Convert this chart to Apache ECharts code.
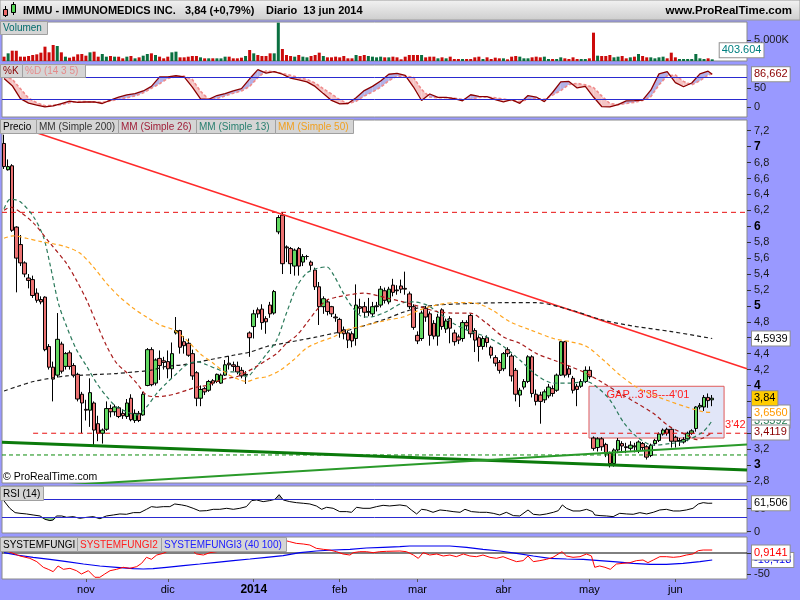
<!DOCTYPE html>
<html>
<head>
<meta charset="utf-8">
<title>IMMU</title>
<script src="https://cdn.jsdelivr.net/npm/echarts@6.0.0/dist/echarts.min.js"></script>
<style>
html,body{margin:0;padding:0;background:#9999ff;overflow:hidden;}
#chart{width:800px;height:600px;}
</style>
</head>
<body>
<div id="chart"></div>
<script>
// ---------- calendar (categories) ----------
const holidays = ['2013-11-28','2013-12-25','2014-01-01','2014-01-20','2014-02-17','2014-04-18','2014-05-26'];
function tradingDays(a, b) {
  const out = []; const d = new Date(a + 'T12:00:00Z'); const end = new Date(b + 'T12:00:00Z');
  while (d <= end) {
    const wd = d.getUTCDay(); const s = d.toISOString().slice(0, 10);
    if (wd !== 0 && wd !== 6 && holidays.indexOf(s) < 0) out.push(s);
    d.setUTCDate(d.getUTCDate() + 1);
  }
  return out;
}
const dates = tradingDays('2013-10-04', '2014-06-25');   // 174 sessions + empty space on the right
const tickDates  = ['2013-11-01','2013-12-02','2014-01-02','2014-02-03','2014-03-03','2014-04-01','2014-05-01','2014-06-02'];
const tickLabels = ['nov','dic','2014','feb','mar','abr','may','jun'];

// ---------- tick labels ----------
const priceTicks = [2.8,3,3.2,3.4,3.6,3.8,4,4.2,4.4,4.6,4.8,5,5.2,5.4,5.6,5.8,6,6.2,6.4,6.6,6.8,7,7.2];
const volTicks = [5000];
const stochTicks = [0, 50];
const rsiTicks = [0, 50];
const sfTicks = [-50, 0];

// ---------- OHLC ----------
const open = [7.04,6.71,6.76,5.99,5.77,5.54,5.35,5.33,5.16,5.08,
5.11,4.49,4.23,4.13,4.52,4.24,4.41,4.25,4.14,3.89,
3.70,3.69,3.78,3.52,3.40,3.45,3.71,3.67,3.72,3.65,
3.61,3.84,3.56,3.65,3.63,4.00,4.45,4.03,4.34,4.31,
4.30,4.21,4.66,4.69,4.55,4.53,4.40,4.16,3.84,3.96,
3.94,4.06,4.05,4.03,4.13,4.28,4.26,4.24,4.19,4.13,
4.66,4.74,4.95,4.96,4.84,5.01,4.91,5.93,6.14,5.74,
5.72,5.50,5.72,5.55,5.62,5.55,5.45,5.24,4.99,5.05,
4.99,4.86,4.83,4.70,4.66,4.65,4.59,4.99,4.99,4.92,
4.90,4.99,5.01,5.19,5.05,5.26,5.20,5.25,5.22,5.15,
4.99,4.63,4.59,4.97,4.90,4.78,4.62,4.95,4.71,4.84,
4.66,4.61,4.59,4.79,4.88,4.69,4.60,4.49,4.60,4.48,
4.35,4.29,4.21,4.45,4.37,4.19,3.88,3.98,4.05,4.36,
3.89,3.88,3.82,3.87,3.96,3.94,4.13,4.55,4.21,4.09,
3.99,3.99,4.05,4.19,3.34,3.22,3.33,3.26,3.15,3.02,
3.19,3.27,3.23,3.21,3.24,3.18,3.27,3.23,3.12,3.27,
3.31,3.39,3.45,3.45,3.35,3.30,3.29,3.33,3.40,3.46,
3.73,3.73,3.85,3.82];
const close = [6.75,6.75,5.95,5.60,5.54,5.40,5.32,5.13,5.07,5.05,
4.45,4.23,4.08,4.58,4.18,4.40,4.24,4.13,3.83,3.78,
3.69,3.91,3.44,3.40,3.44,3.71,3.67,3.73,3.61,3.62,
3.78,3.57,3.65,3.56,3.89,4.45,4.01,4.32,4.25,4.29,
4.21,4.40,4.69,4.48,4.50,4.38,4.12,3.84,3.95,3.92,
4.05,4.03,4.14,4.13,4.26,4.26,4.24,4.17,4.12,4.14,
4.60,4.90,4.90,4.79,4.80,4.90,5.18,6.11,5.53,5.73,
5.53,5.70,5.50,5.62,5.62,5.51,5.24,4.99,5.09,4.93,
4.90,4.85,4.66,4.65,4.57,4.56,5.01,4.97,4.92,4.93,
4.99,5.00,5.21,5.07,5.21,5.17,5.19,5.21,5.21,4.99,
4.73,4.56,4.91,4.86,4.63,4.62,4.86,4.74,4.81,4.72,
4.55,4.57,4.79,4.75,4.65,4.57,4.49,4.59,4.54,4.38,
4.28,4.19,4.40,4.40,4.12,3.89,3.94,4.05,4.36,3.90,
3.80,3.80,3.92,3.98,3.90,4.13,4.55,4.13,4.14,3.94,
3.95,4.05,4.19,4.11,3.21,3.33,3.23,3.14,3.02,3.19,
3.31,3.24,3.22,3.25,3.23,3.29,3.22,3.10,3.25,3.31,
3.39,3.44,3.40,3.30,3.30,3.31,3.32,3.40,3.43,3.73,
3.75,3.85,3.81,3.84];
const low = [6.72,6.70,5.93,5.17,5.50,5.36,5.22,5.10,5.04,5.02,
4.43,4.20,3.80,4.10,4.15,4.20,4.20,4.10,3.80,3.40,
3.56,3.48,3.25,3.30,3.27,3.43,3.60,3.62,3.59,3.58,
3.58,3.55,3.53,3.54,3.62,3.99,3.99,4.00,4.07,4.20,
4.09,4.09,4.64,4.40,4.40,4.36,4.07,3.74,3.74,3.88,
3.92,4.00,4.03,4.02,4.12,4.20,4.18,4.14,4.09,4.02,
4.36,4.59,4.85,4.70,4.65,4.85,4.89,5.90,5.40,5.55,
5.40,5.38,5.38,5.50,5.58,5.45,5.20,4.76,4.90,4.88,
4.86,4.80,4.60,4.58,4.47,4.48,4.50,4.90,4.85,4.87,
4.86,4.93,4.98,5.03,5.02,5.12,5.14,5.16,5.14,4.96,
4.70,4.52,4.56,4.80,4.50,4.58,4.50,4.70,4.66,4.53,
4.50,4.52,4.55,4.70,4.60,4.42,4.30,4.45,4.48,4.34,
4.24,4.15,4.18,4.36,4.05,3.80,3.73,3.95,4.03,3.85,
3.75,3.52,3.78,3.84,3.86,3.92,4.12,4.10,4.10,3.90,
3.74,3.97,4.03,4.08,3.18,3.17,3.18,3.10,2.97,2.98,
3.15,3.16,3.15,3.18,3.16,3.15,3.18,3.07,3.10,3.24,
3.29,3.37,3.37,3.22,3.22,3.24,3.27,3.30,3.38,3.42,
3.70,3.68,3.72,3.74];
const high = [7.15,6.84,6.78,6.00,5.89,5.56,5.40,5.38,5.22,5.12,
5.12,4.52,4.30,4.91,4.55,4.42,4.44,4.28,4.16,3.92,
3.82,4.09,3.80,3.62,3.46,3.80,3.76,3.76,3.74,3.70,
3.83,3.89,3.70,3.68,3.92,4.47,4.48,4.34,4.44,4.36,
4.44,4.54,4.86,4.70,4.62,4.59,4.45,4.18,4.00,3.98,
4.07,4.08,4.15,4.15,4.32,4.37,4.30,4.30,4.23,4.18,
4.68,4.95,4.98,5.02,4.87,5.05,5.20,6.14,6.18,5.76,
5.74,5.72,5.74,5.65,5.64,5.57,5.48,5.30,5.12,5.08,
5.00,4.90,4.85,4.74,4.69,4.68,5.27,5.09,5.05,5.10,
5.05,5.05,5.25,5.23,5.24,5.34,5.26,5.33,5.43,5.18,
5.02,4.68,4.94,5.00,4.93,4.82,4.90,4.97,4.84,4.87,
4.70,4.64,4.82,4.82,4.90,4.72,4.63,4.62,4.63,4.50,
4.38,4.32,4.42,4.48,4.40,4.22,3.97,4.08,4.38,4.38,
3.95,3.92,3.95,4.02,4.00,4.15,4.56,4.56,4.25,4.12,
4.02,4.08,4.24,4.24,3.36,3.35,3.35,3.28,3.17,3.21,
3.34,3.30,3.28,3.30,3.28,3.31,3.29,3.25,3.27,3.33,
3.41,3.46,3.47,3.46,3.37,3.34,3.35,3.42,3.45,3.74,
3.78,3.88,3.90,3.88];

// ---------- volume (thousands of shares) ----------
const volume = [1040,1840,2480,2460,1050,1030,1200,1440,1600,2000,
3440,2080,3840,3600,2080,1040,800,1040,1600,1680,
1280,2080,2240,1040,1680,1040,1200,1040,1030,640,
1040,1200,640,880,1280,1680,1840,1440,1040,640,
1040,2080,2240,880,880,1040,1200,1200,880,640,
640,650,640,630,1040,1040,640,640,800,1200,
2640,1840,1440,1200,1200,1840,1840,9200,2880,1440,
1200,1040,1440,1040,880,1200,1440,2000,1200,880,
880,1040,880,1200,640,640,1440,1200,1440,1200,
1040,880,1040,880,880,1040,880,400,1040,1440,
1440,1440,1440,880,1040,1040,640,880,640,1040,
480,480,480,480,480,880,1040,480,880,480,
800,640,640,400,1040,1200,1040,640,640,880,
1040,880,1040,480,480,480,880,640,480,880,
480,480,480,640,6800,1280,1200,1200,1440,880,
1040,1200,640,880,1040,1680,1200,880,880,640,
880,1040,640,2000,880,480,480,480,480,1680,
640,480,640,403.604];

// ---------- moving averages [session index, value] ----------
const ma200 = [[0,3.93],[3.1,3.985],[7.2,4.05],[11.2,4.09],[15.3,4.12],[19.4,4.13],[23.4,4.14],[27.5,4.15],[31.6,4.17],[35.7,4.19],[39.7,4.24],[43.8,4.26],[47.9,4.30],[51.9,4.34],[56,4.38],[60.1,4.42],[64.2,4.49],[68.2,4.53],[72.3,4.57],[76.4,4.61],[80.5,4.655],[84.5,4.70],[88.6,4.76],[93.5,4.84],[97.5,4.92],[101.6,4.98],[105.7,5.01],[113.8,5.03],[122,5.04],[130.1,5.04],[138.3,4.95],[146.4,4.82],[154.5,4.74],[162.7,4.68],[173,4.59]];
const ma26 = [[0,6.20],[1.5,6.24],[3.9,6.18],[7.2,6.04],[11.2,5.79],[15.3,5.53],[17.7,5.32],[20.2,5.07],[22.6,4.78],[25.1,4.49],[27.5,4.28],[30,4.16],[32.4,4.03],[34.8,3.88],[37.3,3.86],[39.7,3.87],[42.2,3.90],[44.6,3.94],[47.1,3.98],[49.5,4.00],[51.9,4.05],[54.4,4.09],[56.8,4.11],[59.3,4.17],[61.7,4.24],[64.2,4.32],[66.6,4.40],[69,4.53],[71.5,4.63],[73.9,4.78],[76.4,4.95],[78.8,5.07],[81.3,5.11],[84.5,5.14],[87.8,5.16],[93.5,5.10],[97.5,5.05],[101.6,4.99],[105.7,4.93],[109.8,4.91],[113.8,4.91],[117.9,4.78],[122,4.61],[126,4.53],[130.1,4.40],[134.2,4.32],[138.3,4.24],[142.3,4.15],[146.4,4.03],[150.5,3.90],[154.5,3.78],[158.6,3.65],[162.7,3.48],[166.7,3.38],[169.2,3.32],[170.8,3.34],[173,3.41]];
const ma13 = [[0,6.22],[1.5,6.34],[3.9,6.31],[7.2,6.12],[9.6,5.87],[11.2,5.53],[13.3,5.03],[15.3,4.74],[17.7,4.45],[20.2,4.24],[22.6,4.03],[25.1,3.86],[27.5,3.73],[30,3.67],[32.4,3.63],[34.8,3.73],[37.3,3.90],[39.7,4.03],[42.2,4.15],[44.6,4.26],[47.1,4.30],[49.5,4.26],[51.9,4.21],[54.4,4.17],[56.8,4.17],[59.3,4.11],[61.7,4.24],[64.2,4.40],[66.6,4.57],[69,4.91],[71.5,5.24],[73.9,5.41],[76.4,5.47],[78.8,5.49],[80.5,5.39],[82.9,5.16],[85.3,4.97],[87.8,4.86],[89.4,4.86],[93.5,4.93],[97.5,5.04],[100,5.05],[103.3,5.01],[105.7,4.93],[109.8,4.78],[113.8,4.68],[117.9,4.61],[122,4.49],[126,4.32],[130.1,4.13],[134.2,4.03],[138.3,4.03],[142.3,4.05],[144.8,3.98],[148,3.82],[151.3,3.54],[154.5,3.36],[158.6,3.25],[162.7,3.27],[166.7,3.31],[170.8,3.42],[173,3.56]];
const ma50 = [[0,5.85],[2.3,5.88],[5.5,5.85],[8.8,5.81],[12,5.78],[15.3,5.74],[18.6,5.66],[21.8,5.49],[25.1,5.28],[28.3,5.11],[31.6,4.97],[34.8,4.86],[38.1,4.76],[41.4,4.70],[44.6,4.57],[47.9,4.40],[51.1,4.28],[54.4,4.15],[57.6,4.07],[59.3,4.05],[61.7,4.09],[64.2,4.11],[67.4,4.19],[70.7,4.32],[73.9,4.47],[77.2,4.55],[80.5,4.61],[83.7,4.70],[87,4.74],[89.4,4.77],[93.5,4.82],[97.5,4.86],[101.6,4.95],[105.7,5.01],[109.8,5.04],[113.8,5.04],[116.3,5.02],[119.5,4.94],[123.6,4.80],[128.5,4.70],[134.2,4.59],[138.3,4.55],[142.3,4.49],[146.4,4.32],[150.5,4.13],[154.5,3.98],[158.6,3.88],[162.7,3.80],[166.7,3.73],[170.8,3.67],[173,3.66]];

// ---------- drawn lines ----------
const resistanceLevel = 6.175;
const gapLevel = 3.40;
const gapLevelStart = 7.1;
const supportLevel = 3.127;
const trendDown = [[-0.5,7.32],[181.5,4.21]];
const trendSupport = [[-0.5,3.286],[181.5,2.938]];
const trendRise = [[-0.5,2.70],[181.5,3.26]];
const gapBox = {x0:142.9, x1:175.9, lowV:3.34, highV:3.99};

// ---------- stochastic %K / %D (every 2 sessions, last = 173) ----------
const stochK = [76,57,23,11,6,1,3.5,10,16,13, 14,14,10,19,27,32.5,36,43,55,80,
80,83,80,53,22,21,31,36,43,49, 75,99,90,94,87,77,72,67,55,36,
18,9,10,25,44,55,69,87,89,84, 54,18,35,26,26,23,17,33,29,28,
20,14,20,10.5,31,27,15,39,67,68, 51,55,27,2,1,7,17,17.6,19,45,
88,94,65,54,64,88,95,86.7];
const stochD = [82,74,49,24,12,4,5,7,12,15, 15,14,13,17,21,25,30,38,50,62,
76,80,82,73,42,21,23,30,37,43, 55,78,96,93,89,84,78,73,64,49,
35,20,10,16,30,40,53,70,82,82, 79,47,27,25,25,24,21,21,26,27,
25,22,18,15,21,23,21,32,44,60, 63,59,52,30,10,7,10,13,18,28,
59,83,85,68,59,70,85,88];

// ---------- RSI(14) [session index, value] ----------
const rsi = [[0,66.3],[1.4,50.4],[2.7,41],[3.9,39.5],[5.5,38.1],[7.1,35.9],[8.8,33.7],[10,26.5],[11.2,23.6],[12,25],[12.8,33.7],[14.1,33.7],[15.3,30.8],[16.9,32.3],[18.5,28.7],[20.2,30.8],[21.8,32.3],[23.4,27.9],[25,33.7],[26.7,35.9],[28.3,38.1],[29.9,37.4],[31.6,41],[33.2,41],[34.8,48.2],[36,54],[37.3,52.6],[38.9,54],[40.5,54],[41.7,59.8],[43.4,57.7],[44.6,55.5],[46.2,50.4],[47.8,44.6],[49.5,45.3],[51.1,48.2],[52.7,48.2],[54.4,50.4],[56,48.2],[57.6,50.4],[59.2,54],[60.5,67.1],[61.7,68.5],[63.3,64.9],[64.9,67.1],[66.2,70],[67.2,80.1],[68.2,68.5],[69.8,64.9],[71.4,62.7],[73.1,61.3],[74.7,59.8],[76.3,55.5],[77.6,48.2],[78.8,52.6],[80.4,50.4],[82,43.2],[83.7,43.2],[84.9,41.7],[86.1,52.6],[87.7,50.4],[89.4,50.4],[91,54],[92.6,56.9],[94.2,55.5],[96.7,57.7],[98.3,55.5],[99.5,46.8],[100.8,38.1],[102,48.2],[103.2,46.8],[104.8,41.7],[106.5,46.8],[108.1,45.3],[109.7,43.2],[111.4,41.7],[112.6,48.2],[114.2,43.2],[116.2,41.7],[117.9,41.7],[119.5,39.5],[121.1,35.9],[122.7,41.7],[124.4,34.5],[126,33.7],[128,46.8],[129.3,37.4],[130.9,35.9],[132.5,38.1],[134.2,41.7],[135.4,45.3],[136.4,57.7],[137.4,50.4],[139,44.6],[140.7,44.6],[142.3,48.2],[143.8,43.2],[144.3,35.9],[145.6,34.5],[147.2,33.7],[148.8,32.3],[150.4,39.5],[152.1,38.1],[153.7,37.4],[155.3,41],[157,38.1],[158.6,41.7],[160.2,46.8],[161.8,48.2],[163.5,44.6],[165.1,44.6],[166.7,46.8],[168.3,50.4],[169.6,59.8],[170.8,62.7],[172,61.3],[173,61.5]];

// ---------- SYSTEMFUNGI2 (red) / SYSTEMFUNGI3 (blue) ----------
const sf2 = [[0,8],[1.8,0.8],[3.9,-7],[6.3,-12.5],[8,-20.3],[9.6,-33.5],[10.8,-38.2],[12,-43.7],[13.2,-30.4],[14.5,-38.2],[16.1,-35.9],[17.7,-41.4],[18.9,-49.2],[20.6,-41.4],[22.2,-56.9],[23.4,-56.9],[24.6,-49.2],[25.9,-41.4],[27.5,-38.2],[29.1,-33.5],[30.7,-35.9],[32.4,-32],[33.6,-24.2],[34.8,-10.1],[36,-14.8],[37.3,-4.7],[38.9,-0.8],[40.5,7],[42.1,14.8],[43.8,16.4],[45.4,10.9],[47,-2.3],[48.7,-4.7],[50.3,0.8],[51.9,3.1],[53.5,5.5],[55.2,7],[56.8,8.6],[58.4,14.8],[60.1,22.6],[61.7,26.5],[63.3,26.5],[64.9,28.9],[66.6,32],[68.2,30.5],[69.8,26.5],[71.4,22.6],[73.1,21.1],[74.7,18.7],[76.3,10.9],[78,8.6],[79.6,7],[81.2,3.1],[82.8,-2.3],[84.5,-4.7],[85.3,0.8],[86.9,3.1],[88.5,3.1],[90.2,0.8],[91.8,3.1],[93.4,3.9],[96.7,4.7],[98.3,3.1],[100,-4.7],[101.2,-12.5],[102.4,0.8],[104,-4.7],[105.7,-2.3],[107.3,-7],[108.9,-4.7],[110.5,-8.6],[112.2,-2.3],[113.8,-7],[115.4,-8.6],[117,-4.7],[118.7,-10.1],[120.3,-12.5],[121.9,-8.6],[123.6,-14.8],[125.2,-20.3],[126.8,-17.9],[128,-7],[129.3,-20.3],[130.9,-17.9],[132.5,-14.8],[134.1,-10.1],[136.3,3.1],[137.4,-7],[139,-10.1],[140.7,-8.6],[142.3,-2.3],[143.5,-7],[144.3,-33.5],[145.5,-30.4],[146.8,-33.5],[148.1,-38.2],[149.6,-25.8],[151.2,-24.2],[152.9,-22.6],[154.5,-17.9],[156.1,-16.4],[157.3,-22.6],[158.6,-16.4],[160.2,-8.6],[161.8,-8.6],[163.5,-10.1],[165.1,-8.6],[166.7,-4.7],[168.3,-2.3],[169.6,5.5],[170.8,7],[173,7]];
const sf3 = [[0,0.8],[3.1,-4.7],[7.1,-10.1],[11.2,-14.8],[15.3,-20.3],[19.4,-25.8],[23.4,-30.4],[27.5,-33.5],[31.6,-36.7],[34,-37.5],[36.4,-36.7],[39.7,-33.5],[43.8,-29.6],[47.8,-25.8],[51.9,-21.8],[56,-17.9],[60.1,-14],[64.1,-10.1],[68.2,-6.2],[72.3,0.8],[76.3,4.7],[80.4,7],[84.5,8.6],[88.5,11.7],[92.6,13.3],[96.7,14.8],[99.1,16.4],[104.8,16.4],[108.9,16.4],[113,13.3],[117,8.6],[121.1,4.7],[125.2,-0.8],[129.3,-7],[133.3,-12.5],[137.4,-14],[141.5,-14.8],[145.5,-17.9],[149.6,-21],[153.7,-24.2],[157.8,-26.5],[161.8,-26.5],[165.9,-24.2],[170,-20.3],[173,-16.4]];

// ---------- last-value tags ----------
const lastVol = 403.604;
const lastK = 86.662, lastRsi = 61.506, lastSf2 = 0.9141, lastSf3 = -16.418;
const lastMa200 = 4.5939, lastMa13 = 3.5592, lastMa26 = 3.4119, lastMa50 = 3.656, lastClose = 3.84;

// =================== build ===================
const F = '"Liberation Sans", Arial, sans-serif';
const N = dates.length;
const UP = '#62d862', DOWN = '#ec7272';
const candles = open.map((o, i) => [o, close[i], low[i], high[i]]);
const volItems = volume.map((v, i) => ({ value: v, itemStyle: { color: close[i] >= open[i] ? '#0a7040' : '#cc0a0a' } }));
const stochIdx = stochK.map((_, j) => (j < stochK.length - 1 ? j * 2 : 173));
const zip = (xs, ys) => xs.map((x, j) => [x, ys[j]]);
const stochFill = [];
for (let j = 0; j < stochIdx.length - 1; j++) stochFill.push([stochIdx[j], stochK[j], stochD[j], stochIdx[j + 1], stochK[j + 1], stochD[j + 1]]);
const tickIdx = tickDates.map(d => dates.indexOf(d));
const commaFmt = s => String(s).replace('.', ',');

function yAxisDef(gi, min, max, ticks, fmt, rich) {
  return { type: 'value', gridIndex: gi, position: 'right', min, max,
    axisLine: { show: false, onZero: false }, splitLine: { show: false },
    axisTick: { show: true, customValues: ticks, length: 4, lineStyle: { color: '#333' } },
    axisLabel: { customValues: ticks, formatter: fmt, margin: 7, color: '#1a1a1a', fontSize: 11, fontFamily: F, rich: rich || {} } };
}
function tags(list) {
  return { silent: true, symbol: ['none', 'none'], animation: false,
    lineStyle: { color: 'rgba(0,0,0,0)', width: 0 },
    label: { show: true, position: 'end', distance: 5 },
    data: list.map(([v, t, c, bg]) => ({ yAxis: v, lineStyle: { color: 'rgba(0,0,0,0)', width: 0 },
      label: { show: true, position: 'end', distance: 5, formatter: t, color: c, backgroundColor: bg || '#fff', borderColor: '#8f8f8f', borderWidth: 1, padding: [2, 2, 1, 2], fontSize: 11, fontFamily: F } })) };
}
function hlines(vals, color) {
  return { silent: true, symbol: ['none', 'none'], animation: false, label: { show: false },
    lineStyle: { color, width: 1, type: 'solid' }, data: vals.map(v => ({ yAxis: v })) };
}
function line(xi, yi, data, color, width, type, extra) {
  return Object.assign({ type: 'line', xAxisIndex: xi, yAxisIndex: yi, data, symbol: 'none', silent: true, animation: false,
    lineStyle: { color, width, type } }, extra || {});
}
function fillItem(params, api) {
  const x1 = api.value(0), k1 = api.value(1), d1 = api.value(2), x2 = api.value(3), k2 = api.value(4), d2 = api.value(5);
  const c = (x, y) => api.coord([x, y]);
  const col = s => (s >= 0 ? '#b2b2e8' : '#f5c4c4');
  const s1 = k1 - d1, s2 = k2 - d2;
  if (s1 * s2 < 0) {
    const t = s1 / (s1 - s2), xc = x1 + t * (x2 - x1), yc = k1 + t * (k2 - k1);
    return { type: 'group', children: [
      { type: 'polygon', shape: { points: [c(x1, k1), c(xc, yc), c(x1, d1)] }, style: { fill: col(s1) } },
      { type: 'polygon', shape: { points: [c(xc, yc), c(x2, k2), c(x2, d2)] }, style: { fill: col(s2) } }] };
  }
  return { type: 'polygon', shape: { points: [c(x1, k1), c(x2, k2), c(x2, d2), c(x1, d1)] }, style: { fill: col(s1 + s2) } };
}
function legendBox(x, y, w, h, text, color) {
  return { type: 'group', x, y, z: 100, children: [
    { type: 'rect', z: 100, shape: { x: 0.5, y: 0.5, width: w, height: h }, style: { fill: '#d5d5d5', stroke: '#a0a0a0', lineWidth: 1 } },
    { type: 'text', z: 101, x: 3, y: h / 2 + 1, style: { text, fill: color, font: '10px ' + F, verticalAlign: 'middle' } }] };
}

const gridBase = { left: 2, right: 53, show: true, backgroundColor: '#ffffff', borderColor: '#8a8a8a', borderWidth: 1 };
const hiddenX = gi => ({ type: 'value', gridIndex: gi, min: -0.5, max: N - 0.5, show: false, axisLine: { onZero: false } });
const option = {
  animation: false,
  backgroundColor: '#9999ff',
  grid: [
    Object.assign({ top: 22, height: 39 }, gridBase),
    Object.assign({ top: 65, height: 52 }, gridBase),
    Object.assign({ top: 120, height: 363 }, gridBase),
    Object.assign({ top: 486, height: 47 }, gridBase),
    Object.assign({ top: 537, height: 42 }, gridBase)
  ],
  xAxis: [
    { type: 'category', gridIndex: 0, data: dates, show: false, axisLine: { onZero: false } },
    hiddenX(1),
    { type: 'category', gridIndex: 2, data: dates, show: false, axisLine: { onZero: false } },
    hiddenX(2),
    hiddenX(3),
    { type: 'value', gridIndex: 4, min: -0.5, max: N - 0.5,
      axisLine: { show: false, onZero: false }, splitLine: { show: false },
      axisTick: { show: true, customValues: tickIdx, length: 3, lineStyle: { color: '#555' } },
      axisLabel: { customValues: tickIdx, margin: 5, color: '#000', fontSize: 11, fontFamily: F,
        formatter: v => { const k = tickIdx.indexOf(Math.round(v)); const s = k >= 0 ? tickLabels[k] : ''; return /^\d{4}$/.test(s) ? '{b|' + s + '}' : s; },
        rich: { b: { fontWeight: 'bold', fontSize: 12, color: '#000', fontFamily: F } } } }
  ],
  yAxis: [
    yAxisDef(0, 0, 9360, volTicks, v => String(v).replace(/\B(?=(\d{3})+(?!\d))/g, '.') + 'K'),
    yAxisDef(1, -25.5, 111.3, stochTicks, v => String(v)),
    yAxisDef(2, 2.775, 7.335, priceTicks, v => { const r = Math.round(v * 10) / 10; const s = commaFmt(r); return Number.isInteger(r) ? '{b|' + s + '}' : s; },
      { b: { fontWeight: 'bold', fontSize: 12, color: '#000', fontFamily: F } }),
    yAxisDef(3, -3.3, 98.9, rsiTicks, v => String(v)),
    yAxisDef(4, -60.9, 37.5, sfTicks, v => String(v))
  ],
  series: [
    // volume
    { type: 'bar', xAxisIndex: 0, yAxisIndex: 0, data: volItems, barWidth: 3, silent: true, animation: false,
      markPoint: { silent: true, symbol: 'circle', symbolSize: 1, itemStyle: { color: 'rgba(0,0,0,0)' },
        label: { show: true, position: 'right', distance: 7, offset: [0, -9], formatter: '403.604', color: '#008080', backgroundColor: '#fff', borderColor: '#8f8f8f', borderWidth: 1, padding: [2, 2, 1, 2], fontSize: 11, fontFamily: F },
        data: [{ coord: [dates[volume.length - 1], lastVol] }] } },
    // stochastic
    { type: 'custom', xAxisIndex: 1, yAxisIndex: 1, data: stochFill, renderItem: fillItem, silent: true, clip: true,
      encode: { x: [0, 3], y: [1, 2, 4, 5] } },
    line(1, 1, zip(stochIdx, stochD), '#f08a8a', 1.6, [3, 2], { markLine: hlines([80, 20], '#2a2ad0') }),
    line(1, 1, zip(stochIdx, stochK), '#8b0000', 1.3, 'solid', { markLine: tags([[lastK, '86,662', '#8b0000']]) }),
    // price: gap box + support
    line(3, 2, [[-0.5, supportLevel], [N - 0.5, supportLevel]], '#0a8a0a', 1, [4, 3], {
      markArea: { silent: true, itemStyle: { color: '#e1e6f8', borderColor: '#e05a5a', borderWidth: 1 },
        label: { show: true, position: [18, 4], formatter: "GAP...3'35---4'01", color: '#ff2020', fontSize: 11, fontFamily: F },
        data: [[{ coord: [gapBox.x0, gapBox.highV] }, { coord: [gapBox.x1, gapBox.lowV] }]] } }),
    line(3, 2, [[-0.5, resistanceLevel], [N - 0.5, resistanceLevel]], '#e81010', 1, [5, 4]),
    line(3, 2, [[gapLevelStart, gapLevel], [N - 0.5, gapLevel]], '#e81010', 1, [5, 4], {
      markPoint: { silent: true, symbol: 'circle', symbolSize: 1, itemStyle: { color: 'rgba(0,0,0,0)' },
        label: { show: true, position: 'left', distance: 1, offset: [0, -8], formatter: "3'42", color: '#ff1a1a', fontSize: 11, fontFamily: F },
        data: [{ coord: [N - 0.5, gapLevel] }] } }),
    line(3, 2, trendDown, '#ff2a2a', 1.5, 'solid'),
    line(3, 2, trendSupport, '#0b7a0b', 3, 'solid'),
    line(3, 2, trendRise, '#2a9a2a', 2, 'solid'),
    line(3, 2, ma200, '#1e1e1e', 1.2, [4, 3], { smooth: 0.3, markLine: tags([[lastMa200, '4,5939', '#000']]) }),
    line(3, 2, ma13, '#2b7a5b', 1.2, [4, 3], { smooth: 0.3, markLine: tags([[lastMa13, '3,5592', '#1f7a4f']]) }),
    line(3, 2, ma26, '#a81c1c', 1.2, [4, 3], { smooth: 0.3, markLine: tags([[lastMa26, '3,4119', '#8b0000']]) }),
    line(3, 2, ma50, '#ffa51f', 1.2, [4, 3], { smooth: 0.3, markLine: tags([[lastMa50, '3,6560', '#ff9900']]) }),
    { type: 'candlestick', xAxisIndex: 2, yAxisIndex: 2, data: candles, barWidth: 4, silent: true, animation: false,
      itemStyle: { color: UP, color0: DOWN, borderColor: '#000', borderColor0: '#000', borderWidth: 1 },
      markLine: tags([[lastClose, '3,84', '#000', '#ffcc00']]) },
    // RSI
    line(4, 3, rsi.map(([i, v]) => [i, Math.min(v, 30)]), 'rgba(0,0,0,0)', 0, 'solid', { areaStyle: { origin: 30, color: '#8cc98c', opacity: 1 }, markLine: hlines([70, 30], '#2a2ad0') }),
    line(4, 3, rsi.map(([i, v]) => [i, Math.max(v, 70)]), 'rgba(0,0,0,0)', 0, 'solid', { areaStyle: { origin: 70, color: '#a8a8a8', opacity: 1 } }),
    line(4, 3, rsi, '#000', 1, 'solid', { markLine: tags([[lastRsi, '61,506', '#000']]) }),
    // SYSTEMFUNGI
    line(5, 4, [[-0.5, 0], [N - 0.5, 0]], '#000', 1, 'solid'),
    line(5, 4, sf3, '#0000ee', 1.2, 'solid', { markLine: tags([[lastSf3, '-16,418', '#0000ee']]) }),
    line(5, 4, sf2, '#ff0000', 1, 'solid', { markLine: tags([[lastSf2, '0,9141', '#ff0000']]) })
  ],
  graphic: [
    { type: 'rect', z: 90, shape: { x: 0, y: 0, width: 800, height: 20 },
      style: { fill: { type: 'linear', x: 0, y: 0, x2: 0, y2: 1, colorStops: [{ offset: 0, color: '#f3f3f3' }, { offset: 1, color: '#cdcdcd' }] }, stroke: '#9a9a9a', lineWidth: 1 } },
    { type: 'line', z: 91, shape: { x1: 5.5, y1: 6, x2: 5.5, y2: 17 }, style: { stroke: '#000', lineWidth: 1 } },
    { type: 'rect', z: 92, shape: { x: 3.5, y: 9.5, width: 4, height: 6 }, style: { fill: '#ec6a6a', stroke: '#000', lineWidth: 1 } },
    { type: 'line', z: 91, shape: { x1: 13.5, y1: 2, x2: 13.5, y2: 15 }, style: { stroke: '#000', lineWidth: 1 } },
    { type: 'rect', z: 92, shape: { x: 11.5, y: 4.5, width: 4, height: 8 }, style: { fill: '#55d655', stroke: '#000', lineWidth: 1 } },
    { type: 'text', z: 92, x: 23, y: 11, style: { text: 'IMMU - IMMUNOMEDICS INC.', fill: '#000', font: 'bold 11px ' + F, verticalAlign: 'middle' } },
    { type: 'text', z: 92, x: 185, y: 11, style: { text: '3,84 (+0,79%)', fill: '#000', font: 'bold 11px ' + F, verticalAlign: 'middle' } },
    { type: 'text', z: 92, x: 266, y: 11, style: { text: 'Diario  13 jun 2014', fill: '#000', font: 'bold 11px ' + F, verticalAlign: 'middle' } },
    { type: 'text', z: 92, x: 792, y: 11, style: { text: 'www.ProRealTime.com', fill: '#000', font: 'bold 11.5px ' + F, verticalAlign: 'middle', align: 'right' } },
    legendBox(0, 21, 47, 13, 'Volumen', '#006b6b'),
    legendBox(0, 64, 22, 13, '%K', '#8b0000'),
    legendBox(22, 64, 63, 13, '%D (14 3 5)', '#e58a8a'),
    legendBox(0, 119, 36, 14, 'Precio', '#000'),
    legendBox(36, 119, 82, 14, 'MM (Simple 200)', '#333'),
    legendBox(118, 119, 78, 14, 'MM (Simple 26)', '#a0203a'),
    legendBox(196, 119, 79, 14, 'MM (Simple 13)', '#2a8070'),
    legendBox(275, 119, 78, 14, 'MM (Simple 50)', '#f0a020'),
    legendBox(0, 486, 43, 14, 'RSI (14)', '#000'),
    legendBox(0, 537, 77, 14, 'SYSTEMFUNGI', '#000'),
    legendBox(77, 537, 84, 14, 'SYSTEMFUNGI2', '#ff2020'),
    legendBox(161, 537, 125, 14, 'SYSTEMFUNGI3 (40 100)', '#2020ff'),
    { type: 'text', z: 100, x: 3, y: 477, style: { text: '\u00a9 ProRealTime.com', fill: '#000', font: '10.5px ' + F, verticalAlign: 'middle' } }
  ]
};
const chart = echarts.init(document.getElementById('chart'), null, { renderer: 'canvas' });
chart.setOption(option);
</script>
</body>
</html>
